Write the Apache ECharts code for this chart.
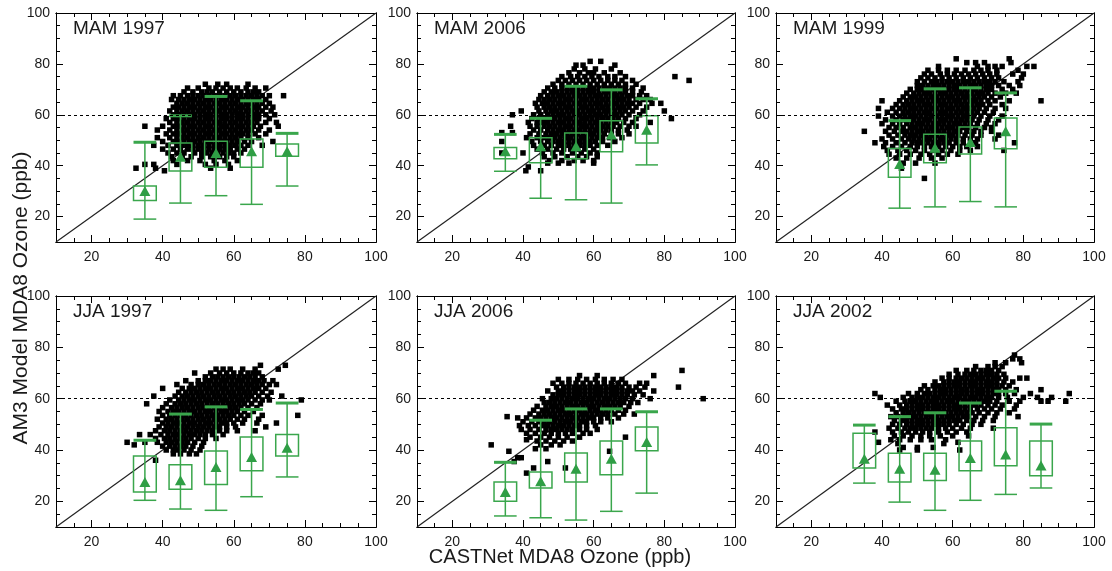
<!DOCTYPE html>
<html>
<head>
<meta charset="utf-8">
<title>AM3 vs CASTNet MDA8 Ozone</title>
<script src="https://cdn.jsdelivr.net/npm/echarts@6.0.0/dist/echarts.min.js"></script>
<style>
  html, body { margin: 0; padding: 0; background: #fff; }
  #main { width: 1112px; height: 571px; }
</style>
</head>
<body>
<div id="main"></div>
<script type="text/javascript">
var panelTitles = ['MAM 1997', 'MAM 2006', 'MAM 1999', 'JJA 1997', 'JJA 2006', 'JJA 2002'];
var axisMin = 10, axisMax = 100;
var tickLabels = [20, 40, 60, 80, 100];
var majorTicks = [20, 40, 60, 80];
var minorTicks = [15, 25, 30, 35, 45, 50, 55, 65, 70, 75, 85, 90, 95];
var refLevel = 60;

// binned model stats: [CASTNet bin, low whisker, 25th pct, mean, 75th pct, high whisker]
var boxMAM1997 = [[35, 19.0, 26.3, 30.0, 32.0, 49.2], [45, 25.3, 37.9, 43.5, 48.9, 59.6], [55, 28.2, 39.4, 45.0, 49.6, 67.2], [65, 24.8, 39.4, 45.7, 50.5, 65.5], [75, 32.0, 43.7, 45.7, 48.5, 52.7]];
var boxMAM2006 = [[35, 37.8, 42.7, 45.7, 47.1, 52.3], [45, 27.2, 41.1, 47.6, 51.0, 58.6], [55, 26.6, 42.7, 47.6, 52.8, 71.2], [65, 25.3, 45.5, 52.2, 57.7, 69.8], [75, 40.3, 48.9, 54.1, 59.6, 66.3]];
var boxMAM1999 = [[45, 23.3, 35.4, 40.7, 46.7, 57.7], [55, 23.8, 41.1, 47.0, 52.3, 70.2], [65, 25.9, 44.6, 49.3, 55.2, 70.6], [75, 23.8, 46.6, 53.5, 58.7, 68.6]];
var boxJJA1997 = [[35, 20.4, 23.6, 27.5, 37.7, 43.8], [45, 17.0, 24.7, 28.2, 34.3, 54.0], [55, 16.5, 26.6, 33.4, 39.6, 56.8], [65, 21.8, 31.9, 37.3, 45.1, 55.8], [75, 29.5, 37.7, 40.9, 46.0, 58.3]];
var boxJJA2006 = [[35, 14.3, 20.0, 23.6, 27.5, 35.2], [45, 13.6, 25.2, 27.8, 31.4, 51.6], [55, 12.7, 27.5, 32.7, 38.8, 56.0], [65, 16.1, 30.4, 36.6, 43.5, 56.0], [75, 23.2, 39.7, 43.1, 49.0, 54.9]];
var boxJJA2002 = [[35, 27.1, 33.0, 36.6, 46.5, 49.7], [45, 19.7, 27.5, 32.7, 38.7, 53.0], [55, 16.5, 28.1, 32.3, 38.7, 54.5], [65, 20.4, 31.9, 36.9, 43.5, 58.3], [75, 22.7, 33.9, 38.2, 48.7, 62.9], [85, 25.2, 30.0, 34.0, 43.5, 50.1]];

// site-day points, one row per model value: 'model: castnet castnet ...'
var cloudMAM1997 = [
  '72: 52 55.5 58 64',
  '70.5: 47 50 53 55 57 59 61 63.5 66 69',
  '69: 46 48.5 51 52.5 54 56 58 60 62 64 65.5 67',
  '67.5: 43 45 47 48.5 50 51.5 53 54.5 56 57.5 59 60.5 62 63.5 65 66.5 68 70 74',
  '66: 42.5 44.5 46 47.5 49 50.5 52 53.5 55 56.5 58 59.5 61 62.5 64 65.5 67 69',
  '64.5: 44 45.5 47 48.5 50 51.5 53 54.5 56 57.5 59 60.5 62 63.5 65 66.5 68 70',
  '63: 43 44.5 46 47.5 49 50.5 52 53.5 55 56.5 58 59.5 61 62.5 64 65.5 67 69 71',
  '61.5: 42 44 45.5 47 48.5 50 51.5 53 54.5 56 57.5 59 60.5 62 63.5 65 66.5 68 70.5',
  '60: 43 44.5 46 47.5 49 50.5 52 53.5 55 56.5 58 59.5 61 62.5 64 65.5 67 69 71.5',
  '58.5: 41 43 44.5 46 47.5 49 50.5 52 53.5 55 56.5 58 59.5 61 62.5 64 65.5 67 70',
  '57: 42 44 45.5 47 48.5 50 51.5 53 54.5 56 57.5 59 60.5 62 63.5 65 66.5 69 72',
  '55.5: 35 40 43 44.5 46 47.5 49 50.5 52 53.5 55 56.5 58 59.5 61 62.5 64 65.5 67.5 72.5',
  '54: 38.5 42 44 45.5 47 48.5 50 51.5 53 54.5 56 57.5 59 60.5 62 63.5 65 67 70',
  '52.5: 41 43 44.5 46 47.5 49 50.5 52 53.5 55 56.5 58 59.5 61 62.5 64 66 69',
  '51: 38.5 42 44 45.5 47 48.5 50 51.5 53 54.5 56 57.5 59 60.5 62 64 67',
  '49.5: 40 43 44.5 46 47.5 49 50.5 52 53.5 55 56.5 58 59.5 61 63 65 71',
  '48: 37.5 41.5 44 45.5 47 48.5 50 51.5 53 54.5 56 57.5 59 60.5 62 64 68',
  '46.5: 40 43 45 47 48.5 50 51.5 53 54.5 56 57.5 59 61 63',
  '45: 41.5 44 46 49 51 52.5 54 55.5 57 58.5 60 62',
  '43.5: 42.5 45.5 48 51 53.5 56 58 60',
  '42: 43 47 50.5 54.5 57.5 61',
  '40.5: 35 37.5 44 52 55 58.5',
  '39: 32.5 38 53.5 59',
  '38: 40.5'
];
var cloudMAM2006 = [
  '81: 59 62',
  '79.5: 55 57 66',
  '78: 54.5 57.5 60.5 65',
  '76.5: 53 56 58.5 60 63 67.5',
  '75: 51 53.5 55.5 57.5 59.5 61.5 64 66 69 83',
  '73.5: 50 52 54 56 58 60 62 64 66 68 71 87',
  '72: 48.5 51 53 55 57 59 61 63 65 67 69 72',
  '70.5: 47 49 51 52.5 54 55.5 57 58.5 60 61.5 63 64.5 66 67.5 69 71 74',
  '69: 46 48 49.5 51 52.5 54 55.5 57 58.5 60 61.5 63 64.5 66 67.5 69 71 73.5',
  '67.5: 45 47 48.5 50 51.5 53 54.5 56 57.5 59 60.5 62 63.5 65 66.5 68 69.5 71 73 75',
  '66: 44.5 46 47.5 49 50.5 52 53.5 55 56.5 58 59.5 61 62.5 64 65.5 67 68.5 70 72 74 76',
  '64.5: 43.5 45.5 47 48.5 50 51.5 53 54.5 56 57.5 59 60.5 62 63.5 65 66.5 68 69.5 71 73 76.5 79',
  '63: 44 46 47.5 49 50.5 52 53.5 55 56.5 58 59.5 61 62.5 64 65.5 67 68.5 70 72 75',
  '61.5: 39.5 44.5 46.5 48 49.5 51 52.5 54 55.5 57 58.5 60 61.5 63 64.5 66 67.5 69 71 74 80',
  '60: 37 43 45 47 48.5 50 51.5 53 54.5 56 57.5 59 60.5 62 63.5 65 66.5 68 70 73',
  '58.5: 42.5 44.5 46 47.5 49 50.5 52 53.5 55 56.5 58 59.5 61 62.5 64 65.5 67 69 72 82',
  '57: 41.5 44 45.5 47 48.5 50 51.5 53 54.5 56 57.5 59 60.5 62 63.5 65 66.5 68.5 71 76',
  '55.5: 36.5 42 44 46 47.5 49 50.5 52 53.5 55 56.5 58 59.5 61 62.5 64 65.5 67.5 70 72',
  '54: 43 45 47 48.5 50 51.5 53 54.5 56 57.5 59 60.5 62 63.5 65 67 69.5',
  '53: 34 37',
  '52.5: 42 44.5 46.5 48 49.5 51 52.5 54 55.5 57 58.5 60 61.5 63 65 67 70',
  '51: 41 44 46 47.5 49 50.5 52 53.5 55 56.5 58 59.5 61 62.5 64.5 68',
  '49.5: 34 42.5 45 47 48.5 50 51.5 53 54.5 56 57.5 59 60.5 62.5 66',
  '48: 43 46 48 50 51.5 53 54.5 56 57.5 59 61 64',
  '46.5: 44 47 49.5 51.5 53.5 55.5 57.5 60',
  '45: 34 40 45.5 48.5 51 54 56.5 59 61',
  '43.5: 46 49 52.5 55.5 58 61',
  '42: 47.5 51 54.5 57 60',
  '41: 47 50 53 60',
  '39.5: 41.5',
  '38: 40.8 45'
];
var cloudMAM1999 = [
  '82: 61 76',
  '80.5: 64 66.5 69 76.5',
  '79: 56 67 70 72 74 81 83',
  '77.5: 53 56 58.5 61 63.5 66 68 70 72.5 78.5',
  '76: 52 54 56.5 58.5 60.5 62.5 64.5 66.5 68.5 70.5 72.5 77 80',
  '74.5: 51 53 55 57 59 61 63 65 67 69 71 73 79.5',
  '73: 50 52 54 55.5 57 58.5 60 61.5 63 64.5 66 67.5 69 70.5 72 74.5 78.5',
  '71.5: 50 51.5 53 54.5 56 57.5 59 60.5 62 63.5 65 66.5 68 69.5 71 73 76 79',
  '70: 48 50 51.5 53 54.5 56 57.5 59 60.5 62 63.5 65 66.5 68 69.5 71 74 77',
  '68.5: 47 49 50.5 52 53.5 55 56.5 58 59.5 61 62.5 64 65.5 67 68.5 70 72 75 78',
  '67: 46 48 49.5 51 52.5 54 55.5 57 58.5 60 61.5 63 64.5 66 67.5 69 71 73.5',
  '65.5: 40 45 47 48.5 50 51.5 53 54.5 56 57.5 59 60.5 62 63.5 65 66.5 68 70 72 76 85',
  '64: 44 46 47.5 49 50.5 52 53.5 55 56.5 58 59.5 61 62.5 64 65.5 67 68.5 70.5 74',
  '62.5: 39 43 45 46.5 48 49.5 51 52.5 54 55.5 57 58.5 60 61.5 63 64.5 66 67.5 69.5 72 75',
  '61: 41.5 44 46 47.5 49 50.5 52 53.5 55 56.5 58 59.5 61 62.5 64 65.5 67 69 71.5',
  '59.5: 39 43 45 46.5 48 49.5 51 52.5 54 55.5 57 58.5 60 61.5 63 64.5 66 68 70.5 74',
  '58: 41 44 46 47.5 49 50.5 52 53.5 55 56.5 58 59.5 61 62.5 64 65.5 67.5 70 73',
  '56.5: 40 43 45 47 48.5 50 51.5 53 54.5 56 57.5 59 60.5 62 63.5 65 67 69.5 72',
  '55: 42 44 46 48 49.5 51 52.5 54 55.5 57 58.5 60 61.5 63 64.5 66.5 69 71',
  '53.5: 35 41 43.5 45.5 47 48.5 50 51.5 53 54.5 56 57.5 59 60.5 62 64 66 68 71',
  '52: 42 44.5 46.5 48 49.5 51 52.5 54 55.5 57 58.5 60 61.5 63.5 65.5 68 73',
  '50.5: 40 43 45.5 47.5 49 50.5 52 53.5 55 56.5 58 59.5 61 63 65 67 72',
  '49: 38 41 44 46.5 48.5 50 51.5 53 54.5 56 57.5 59 61 63 66.5 77.5',
  '47.5: 40.5 43 45.5 48 50 52 54 56 58 60 62 64 67',
  '46: 41.5 44.5 47 49.5 52 54.5 57 59.5 62 65 74.5',
  '44.5: 42 45 48 51 53.5 56 58.5 61.5',
  '43: 44 47 50.5 54 57',
  '41: 46 49.5 55',
  '39: 45.5',
  '35: 52'
];
var cloudJJA1997 = [
  '73: 67.5 74.5',
  '71.5: 55 57 59 62.5 66 72.5',
  '70: 49 53.5 56 58 60 62 64 65.5 67',
  '68.5: 52 54 55.5 57 58.5 60 61.5 63 64.5 66 68',
  '67: 46.5 50 52 53.5 55 56.5 58 59.5 61 62.5 64 65.5 67 68.5 71',
  '65.5: 44 48 50 51.5 53 54.5 56 57.5 59 60.5 62 63.5 65 66.5 68 70 72',
  '64: 40 45.5 47.5 49 50.5 52 53.5 55 56.5 58 59.5 61 62.5 64 65.5 67 69',
  '62.5: 44.5 46.5 48 49.5 51 52.5 54 55.5 57 58.5 60 61.5 63 64.5 66 68 70.5',
  '61: 37.5 43.5 45.5 47 48.5 50 51.5 53 54.5 56 57.5 59 60.5 62 63.5 65 67 69.5 73.5',
  '59.5: 42 44.5 46 47.5 49 50.5 52 53.5 55 56.5 58 59.5 61 62.5 64 66 68 70 79',
  '58: 35.5 41 43.5 45 46.5 48 49.5 51 52.5 54 55.5 57 58.5 60 61.5 63 65 67.5',
  '56.5: 40 42.5 44 45.5 47 48.5 50 51.5 53 54.5 56 57.5 59 60.5 62 64 66.5',
  '55: 39 41.5 43 44.5 46 47.5 49 50.5 52 53.5 55 56.5 58 59.5 61 63 65.5',
  '53.5: 40 42 43.5 45 46.5 48 49.5 51 52.5 54 55.5 57 58.5 60 62 64 68 78',
  '52: 38.5 41 42.5 44 45.5 47 48.5 50 51.5 53 54.5 56 57.5 59 61 63 67',
  '50.5: 40 41.5 43 44.5 46 47.5 49 50.5 52 53.5 55 56.5 58 60 62.5 66.5 72',
  '49: 39 41 42.5 44 45.5 47 48.5 50 51.5 53 54.5 56 58 60.5 69',
  '47.5: 38 40.5 42 43.5 45 46.5 48 49.5 51 52.5 54 56 58 61 66',
  '46: 33.5 36.5 39.5 41.5 43 44.5 46 47.5 49 50.5 52 54 57',
  '44.5: 38 40.5 42 43.5 45 46.5 48 50 52 55',
  '43: 30 35 38.5 41 42.5 44 45.5 47 49 51.5',
  '42: 32',
  '41.5: 40 42 43.5 45 46.5 48.5 51',
  '40: 41 43 44.5 46 48 50.5',
  '38.5: 43 45 47.5 49.5',
  '36: 38'
];
var cloudJJA2006 = [
  '71: 85',
  '69: 56 61 77',
  '67.5: 50 53 55.5 58 60.5 63 65.5 68',
  '66: 48.5 51 53 55 57 59 61 63 65 67 69 73 75',
  '64.5: 49.5 51.5 53 54.5 56 57.5 59 60.5 62 63.5 65 66.5 68 70 72 74.5 84',
  '63: 47 50 51.5 53 54.5 56 57.5 59 60.5 62 63.5 65 66.5 68 69.5 71 73 77',
  '61.5: 48.5 50 51.5 53 54.5 56 57.5 59 60.5 62 63.5 65 66.5 68 69.5 71.5 74',
  '60: 45.5 48 49.5 51 52.5 54 55.5 57 58.5 60 61.5 63 64.5 66 67.5 69 71 76 91',
  '58.5: 46 47.5 49 50.5 52 53.5 55 56.5 58 59.5 61 62.5 64 65.5 67 68.5 70.5 72.5',
  '57: 44 46.5 48 49.5 51 52.5 54 55.5 57 58.5 60 61.5 63 64.5 66 67.5 70',
  '55.5: 43 45.5 47 48.5 50 51.5 53 54.5 56 57.5 59 60.5 62 63.5 65 67 69',
  '54: 42 44.5 46 47.5 49 50.5 52 53.5 55 56.5 58 59.5 61 62.5 64 66 68.5 71.5',
  '53: 35.5',
  '52.5: 38.5 41 43.5 45 46.5 48 49.5 51 52.5 54 55.5 57 58.5 60 62 64 67',
  '51: 40 42.5 44.5 46 47.5 49 50.5 52 53.5 55 56.5 58 60 62 65',
  '49.5: 39 41.5 43.5 45.5 47 48.5 50 51.5 53 54.5 56 58 60.5',
  '48: 39.5 42 44.5 46.5 48 49.5 51 52.5 54 56 58 61',
  '46.5: 41 43.5 46 48 50 52 54 57 59',
  '45: 42 45 47.5 50 52.5 56 69',
  '44: 41',
  '43.5: 44 46.5 49 51.5 54',
  '42: 31 45 48 50.5',
  '40.5: 43.5 46.5',
  '39.5: 36 64.5',
  '37: 38.5 39.5',
  '35.5: 37.5 47',
  '33: 43 52',
  '31: 41'
];
var cloudJJA2002 = [
  '77: 77.5',
  '75.5: 77 79',
  '74: 72 75 79.5',
  '72.5: 66.5 70 72 74',
  '71: 61 64 66 68 69.5 71 73',
  '69.5: 59 61.5 63.5 65 66.5 68 69.5 71 72.5 74.5',
  '68: 57 59 61 62.5 64 65.5 67 68.5 70 71.5 73 75 79 81',
  '66.5: 55 57.5 59 60.5 62 63.5 65 66.5 68 69.5 71 72.5 74.5 77',
  '65: 52 54.5 56 57.5 59 60.5 62 63.5 65 66.5 68 69.5 71 72.5 74 76',
  '63.5: 51 53 55 56.5 58 59.5 61 62.5 64 65.5 67 68.5 70 71.5 73 75 78 85',
  '62: 38 47.5 50 52 53.5 55 56.5 58 59.5 61 62.5 64 65.5 67 68.5 70 71.5 73 75 77.5 82 93',
  '60.5: 39.5 46 48.5 50 51.5 53 54.5 56 57.5 59 60.5 62 63.5 65 66.5 68 69.5 71 73 75.5 80 84 88',
  '59: 44 46.5 48 49.5 51 52.5 54 55.5 57 58.5 60 61.5 63 64.5 66 67.5 69 70.5 72.5 76 79 85 87 92',
  '57.5: 41.5 45 47 48.5 50 51.5 53 54.5 56 57.5 59 60.5 62 63.5 65 66.5 68 70 72 74 78',
  '56: 43 45.5 47 48.5 50 51.5 53 54.5 56 57.5 59 60.5 62 63.5 65 67 69 71 73.5 77.5',
  '54.5: 44 46 47.5 49 50.5 52 53.5 55 56.5 58 59.5 61 62.5 64 65.5 67.5 70 72.5 76',
  '53: 42.5 44.5 46.5 48 49.5 51 52.5 54 55.5 57 58.5 60 61.5 63 64.5 66.5 69 72 78.5',
  '51.5: 43.5 45.5 47 48.5 50 51.5 53 54.5 56 57.5 59 60.5 62 64 66 68.5 71.5',
  '50: 43 45 47 48.5 50 51.5 53 54.5 56 57.5 59 61 63 65.5 68',
  '48.5: 42 44.5 46.5 48 49.5 51 52.5 54 56 58 60 62.5 65 71.5',
  '47: 38 43 45.5 47.5 49.5 51.5 53.5 56 58.5 61 64',
  '45.5: 43.5 46 48.5 51 53.5 56.5 60 64.5',
  '44: 42.5 45 48 51 54 58',
  '43: 39 61.5',
  '42.5: 44.5 57.5',
  '41: 46 50 54.5',
  '40: 45 50 62'
];

var panelBoxes = [boxMAM1997, boxMAM2006, boxMAM1999, boxJJA1997, boxJJA2006, boxJJA2002];
var panelClouds = [cloudMAM1997, cloudMAM2006, cloudMAM1999, cloudJJA1997, cloudJJA2006, cloudJJA2002];

// plot areas [left, top, width, height]
var gridPos = [
  [56, 13, 320, 229], [417, 13, 318, 229], [776, 13, 318, 229],
  [56, 296, 320, 231], [417, 296, 318, 231], [776, 296, 318, 231]
];

var FONT = 'Liberation Sans, Arial, Helvetica, sans-serif';
var GREEN = '#3aa64c';
var TRI_GREEN = '#2f9e45';
var BOX_HALF = 3.2;

function parseCloud(rows) {
  var pts = [];
  rows.forEach(function (r) {
    var p = r.split(':');
    var y = +p[0];
    p[1].trim().split(/\s+/).forEach(function (x) { pts.push([+x, y]); });
  });
  return pts;
}

function makeAxis(dim, i, pos, ticks, len, withLabels) {
  return {
    type: 'value', gridIndex: i, position: pos,
    min: axisMin, max: axisMax,
    axisLine: { show: true, onZero: false, lineStyle: { color: '#000', width: 1 } },
    axisTick: { show: true, inside: true, length: len, customValues: ticks, lineStyle: { color: '#000', width: 1 } },
    axisLabel: {
      show: withLabels, customValues: tickLabels, color: '#1a1a1a',
      fontSize: 14, fontFamily: FONT, margin: dim === 'x' ? 8 : 6
    },
    splitLine: { show: false }
  };
}

function renderBox(params, api) {
  var x = api.value(0), lo = api.value(1), q1 = api.value(2), q3 = api.value(4), hi = api.value(5);
  var pLo = api.coord([x, lo]), pHi = api.coord([x, hi]);
  var b1 = api.coord([x - BOX_HALF, q3]), b2 = api.coord([x + BOX_HALF, q1]);
  var cLo1 = api.coord([x - BOX_HALF, lo]), cLo2 = api.coord([x + BOX_HALF, lo]);
  var cHi1 = api.coord([x - BOX_HALF, hi]), cHi2 = api.coord([x + BOX_HALF, hi]);
  var thin = { stroke: GREEN, lineWidth: 1.5, fill: null };
  return {
    type: 'group',
    children: [
      { type: 'rect', shape: { x: b1[0], y: b1[1], width: b2[0] - b1[0], height: b2[1] - b1[1] }, style: thin },
      { type: 'line', shape: { x1: pLo[0], y1: pLo[1], x2: pHi[0], y2: pHi[1] }, style: thin },
      { type: 'line', shape: { x1: cLo1[0], y1: cLo1[1], x2: cLo2[0], y2: cLo2[1] }, style: thin },
      { type: 'line', shape: { x1: cHi1[0], y1: cHi1[1], x2: cHi2[0], y2: cHi2[1] }, style: { stroke: GREEN, lineWidth: 3 } }
    ]
  };
}

var grids = [], xAxes = [], yAxes = [], series = [], graphics = [];

gridPos.forEach(function (g, i) {
  grids.push({ left: g[0], top: g[1], width: g[2], height: g[3], outerBoundsMode: 'none', containLabel: false });
  var xi = xAxes.length, yi = yAxes.length;
  xAxes.push(makeAxis('x', i, 'bottom', minorTicks, 4, true));
  xAxes.push(makeAxis('x', i, 'bottom', majorTicks, 7, false));
  xAxes.push(makeAxis('x', i, 'top', minorTicks, 4, false));
  xAxes.push(makeAxis('x', i, 'top', majorTicks, 7, false));
  yAxes.push(makeAxis('y', i, 'left', minorTicks, 4, true));
  yAxes.push(makeAxis('y', i, 'left', majorTicks, 7, false));
  yAxes.push(makeAxis('y', i, 'right', minorTicks, 4, false));
  yAxes.push(makeAxis('y', i, 'right', majorTicks, 7, false));

  // 1:1 line with the 60 ppb reference
  series.push({
    type: 'line', xAxisIndex: xi, yAxisIndex: yi, z: 1,
    data: [[axisMin, axisMin], [axisMax, axisMax]],
    symbol: 'none', silent: true,
    lineStyle: { color: '#222', width: 1.2 },
    markLine: {
      silent: true, symbol: ['none', 'none'], label: { show: false },
      lineStyle: { color: '#000', width: 1, type: [3, 3] },
      data: [{ yAxis: refLevel }]
    }
  });
  series.push({
    type: 'scatter', xAxisIndex: xi, yAxisIndex: yi, z: 2,
    symbol: 'rect', symbolSize: 5.5,
    itemStyle: { color: '#000', opacity: 1 },
    data: parseCloud(panelClouds[i])
  });
  series.push({
    type: 'custom', xAxisIndex: xi, yAxisIndex: yi, z: 3,
    renderItem: renderBox,
    encode: { x: 0, y: [1, 2, 3, 4, 5] },
    data: panelBoxes[i]
  });
  series.push({
    type: 'scatter', xAxisIndex: xi, yAxisIndex: yi, z: 4,
    symbol: 'triangle', symbolSize: [11, 10],
    itemStyle: { color: TRI_GREEN, opacity: 1 },
    data: panelBoxes[i].map(function (b) { return [b[0], b[3]]; })
  });

  graphics.push({
    type: 'text', left: g[0] + 17, top: g[1] + 6,
    style: { text: panelTitles[i], font: '19px ' + FONT, fill: '#1a1a1a' }
  });
});

graphics.push({
  type: 'text', x: 560, y: 547,
  style: { text: 'CASTNet MDA8 Ozone (ppb)', font: '20px ' + FONT, fill: '#1a1a1a', align: 'center', verticalAlign: 'top' }
});
graphics.push({
  type: 'text', x: 11, y: 298, rotation: Math.PI / 2,
  style: { text: 'AM3 Model MDA8 Ozone (ppb)', font: '21px ' + FONT, fill: '#1a1a1a', align: 'center', verticalAlign: 'top' }
});

var myChart = echarts.init(document.getElementById('main'));
myChart.setOption({
  animation: false,
  backgroundColor: '#fff',
  grid: grids,
  xAxis: xAxes,
  yAxis: yAxes,
  series: series,
  graphic: graphics
});
</script>
</body>
</html>
